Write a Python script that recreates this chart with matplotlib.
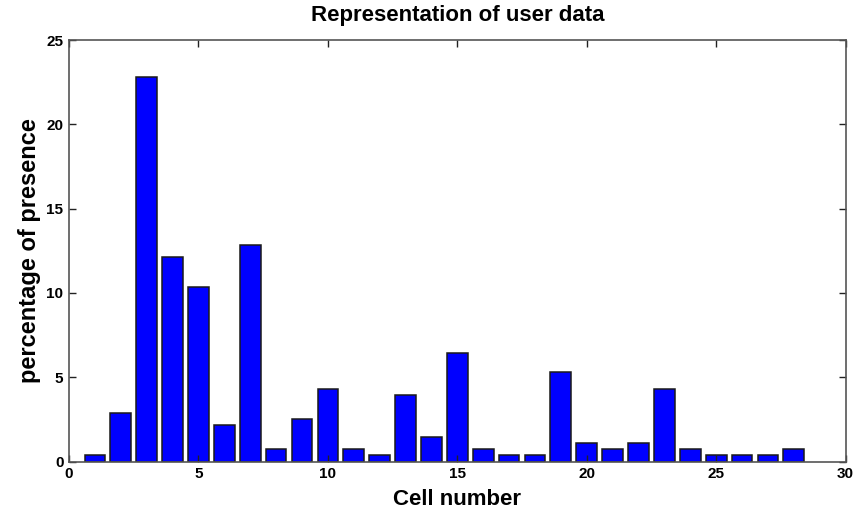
import matplotlib
matplotlib.use("Agg")
import matplotlib.pyplot as plt

cells = list(range(1, 29))
values = [0.37, 2.88, 22.8, 12.15, 10.35, 2.17, 12.85, 0.77, 2.55, 4.31,
          0.77, 0.37, 3.95, 1.46, 6.42, 0.75, 0.37, 0.37, 5.34, 1.09,
          0.75, 1.09, 4.31, 0.75, 0.37, 0.37, 0.37, 0.75]
xticks = [0, 5, 10, 15, 20, 25, 30]
yticks = [0, 5, 10, 15, 20, 25]

plt.rcParams['font.family'] = ['Liberation Sans', 'DejaVu Sans']

fig = plt.figure(figsize=(8.55, 5.14), dpi=100)
ax = fig.add_axes([0.0807, 0.102, 0.9083, 0.820])
ax.bar(cells, values, width=0.8, color='#0000ff', edgecolor='#1a1a1a', linewidth=1.1)
ax.set_xlim(0, 30)
ax.set_ylim(0, 25)
ax.set_xticks(xticks)
ax.set_yticks(yticks)
ax.tick_params(direction='in', top=True, right=True, length=5, width=1,
               labelsize=11, pad=4, color='#222222')
for lab in ax.get_xticklabels() + ax.get_yticklabels():
    lab.set_fontweight('bold')
for s in ax.spines.values():
    s.set_color('#555555')
    s.set_linewidth(1.2)
ax.set_title('Representation of user data', fontsize=16, fontweight='bold', pad=14)
ax.set_xlabel('Cell number', fontsize=16, fontweight='bold', labelpad=6)
ax.set_ylabel('percentage of presence', fontsize=17, fontweight='bold', labelpad=4)
fig.savefig('out.png', dpi=100)
